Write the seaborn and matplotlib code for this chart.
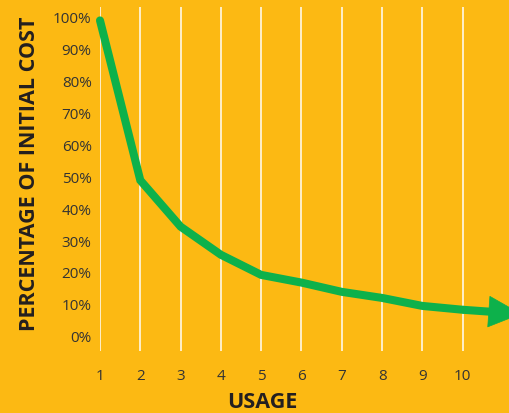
import numpy as np
import pandas as pd
import matplotlib
matplotlib.use("Agg")
import matplotlib.pyplot as plt
import seaborn as sns

# values
usage = [1, 2, 3, 4, 5, 6, 7, 8, 9, 10]
cost_pct = [99, 49, 34.5, 25.7, 19.4, 17, 14.1, 12.2, 9.7, 8.5]
arrow_end = (11.46, 7.2)
y_ticks = [0, 10, 20, 30, 40, 50, 60, 70, 80, 90, 100]
x_ticks = [1, 2, 3, 4, 5, 6, 7, 8, 9, 10]

bg = "#FCB913"
green = "#0DB14B"

sns.set_theme(style="white")
plt.rcParams["font.family"] = ["Open Sans", "DejaVu Sans"]

df = pd.DataFrame({"usage": usage, "cost": cost_pct})

fig = plt.figure(figsize=(5.09, 4.13), dpi=100, facecolor=bg)
ax = fig.add_axes([100 / 509, 62 / 413, 409 / 509, 344 / 413])
ax.set_facecolor(bg)

# white vertical grid lines at every usage step
for x in x_ticks:
    ax.axvline(x, color="white", lw=1.2, alpha=0.9, zorder=1)

sns.lineplot(data=df, x="usage", y="cost", ax=ax, color=green, lw=5.8,
             solid_capstyle="round", solid_joinstyle="miter", zorder=3)
for l in ax.lines[-1:]:
    l.set_clip_on(False)

# arrow shaft up to the head base, then a sharp filled head running off the edge
x0, y0 = usage[-1], cost_pct[-1]
t = 0.55
xb = x0 + t * (arrow_end[0] - x0)
yb = y0 + t * (arrow_end[1] - y0)
ax.plot([x0, xb], [y0, yb], color=green, lw=5.8, solid_capstyle="butt", zorder=3)
ax.annotate("", xy=arrow_end, xytext=(x0, y0),
            arrowprops=dict(arrowstyle="-|>,head_length=23,head_width=11",
                            mutation_scale=1, color=green, lw=0.5,
                            shrinkA=0, shrinkB=0),
            annotation_clip=False, zorder=4)

ax.set_xlim(1, 11.15)
ax.set_ylim(-4.4, 103.2)
ax.set_xticks(x_ticks)
ax.set_yticks(y_ticks)
ax.set_yticklabels([f"{v}%" for v in y_ticks])
ax.tick_params(axis="both", length=0, labelsize=11, colors="#333333")
ax.tick_params(axis="x", pad=13)
ax.tick_params(axis="y", pad=6)
for s in ax.spines.values():
    s.set_visible(False)
ax.grid(False)

ax.set_xlabel("USAGE", fontsize=15.5, fontweight="bold", color="#231F20", va="center")
ax.set_ylabel("PERCENTAGE OF INITIAL COST", fontsize=15.5, fontweight="bold",
              color="#231F20", va="center")
ax.xaxis.set_label_coords((262 - 100) / 409, -(402 - 351) / 344)
ax.yaxis.set_label_coords(-(100 - 30) / 409, (351 - 174) / 344)

fig.savefig("out.png", dpi=100, facecolor=bg)
